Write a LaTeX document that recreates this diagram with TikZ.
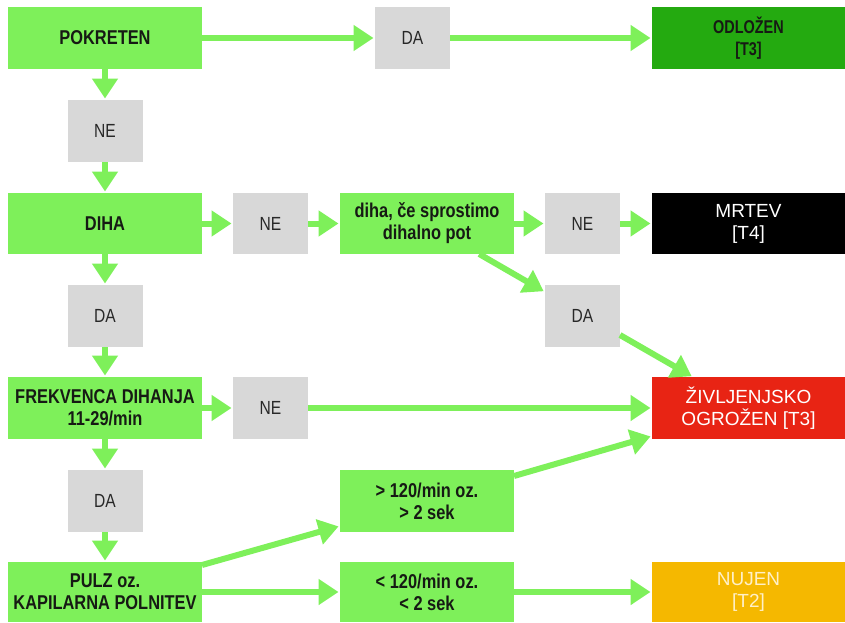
\documentclass[tikz,border=0pt]{standalone}
\usepackage{fontspec}
\setmainfont{Liberation Sans}
\newfontfamily\narrowsans{Liberation Sans}[FakeStretch=0.82]
\newfontfamily\narrowersans{Liberation Sans}[FakeStretch=0.78]
\usetikzlibrary{arrows.meta,calc}

\definecolor{lime}{RGB}{126,240,90}
\definecolor{boxgray}{RGB}{216,216,216}
\definecolor{delaygreen}{RGB}{36,170,16}
\definecolor{urgentred}{RGB}{232,36,20}
\definecolor{warnorange}{RGB}{245,184,0}
\definecolor{inktext}{RGB}{22,26,20}
\definecolor{graytext}{RGB}{40,40,40}
\definecolor{creamtext}{RGB}{255,240,200}

\tikzset{
  base/.style={inner sep=0pt, outer sep=0pt, align=center, minimum height=62pt},
  question/.style={base, fill=lime, minimum width=194pt, text=inktext,
    font=\narrowsans\bfseries\fontsize{20}{22}\selectfont},
  answer/.style={base, fill=boxgray, minimum width=75pt, text=graytext,
    font=\narrowsans\fontsize{19}{22}\selectfont},
  criterion/.style={question, minimum width=174pt},
  outcome/.style={base, minimum width=193pt, text=white,
    font=\fontsize{19}{22}\selectfont},
  flow/.style={draw=lime, line width=6pt,
    -{Triangle[length=20pt,width=25pt]}, shorten >=1.5pt}
}

\begin{document}
\begin{tikzpicture}[x=1pt, y=-1pt]
  \useasboundingbox (0,0) rectangle (845,622);

  % left column: the questions and their answers
  \node[question] (pok)  at (105,38)  {POKRETEN};
  \node[answer]   (ne1)  at (105,131) {NE};
  \node[question, minimum height=61pt] (diha) at (105,223.5) {DIHA};
  \node[answer]   (da2)  at (105,316) {DA};
  \node[question] (frek) at (105,408) {FREKVENCA DIHANJA\\11-29/min};
  \node[answer]   (da4)  at (105,501) {DA};
  \node[question, minimum height=60pt] (pulz) at (105,592) {PULZ oz.\\KAPILARNA POLNITEV};

  % middle: answers and criteria
  \node[answer] (da1) at (412.5,38) {DA};
  \node[answer, minimum height=61pt] (ne2) at (270.5,223.5) {NE};
  \node[criterion, minimum height=61pt] (cesp) at (427,223.5) {diha, če sprostimo\\dihalno pot};
  \node[answer, minimum height=61pt] (ne3) at (582.5,223.5) {NE};
  \node[answer] (da3) at (582.5,316) {DA};
  \node[answer] (ne4) at (270.5,408) {NE};
  \node[criterion] (gt) at (427,501) {> 120/min oz.\\> 2 sek};
  \node[criterion, minimum height=60pt] (lt) at (427,592) {< 120/min oz.\\< 2 sek};

  % right column: triage categories
  \node[outcome, fill=delaygreen, text=inktext,
    font=\narrowersans\bfseries\fontsize{18.5}{22}\selectfont]
    (odl) at (748.5,38) {ODLOŽEN\\{[}T3{]}};
  \node[outcome, fill=black, minimum height=61pt] (mrt) at (748.5,223.5) {MRTEV\\{[}T4{]}};
  \node[outcome, fill=urgentred] (ziv) at (748.5,408) {ŽIVLJENJSKO\\OGROŽEN [T3]};
  \node[outcome, fill=warnorange, text=creamtext, minimum height=60pt]
    (nuj) at (748.5,592) {NUJEN\\{[}T2{]}};

  % connectors
  \draw[flow] (pok) -- (da1);
  \draw[flow] (da1) -- (odl);
  \draw[flow] (pok) -- (ne1);
  \draw[flow] (ne1) -- (diha);
  \draw[flow] (diha) -- (ne2);
  \draw[flow] (ne2) -- (cesp);
  \draw[flow] (cesp) -- (ne3);
  \draw[flow] (ne3) -- (mrt);
  \draw[flow] ($(cesp.south west)!0.8!(cesp.south east)$) -- ($(da3.north west)+(0,7)$);
  \draw[flow] ($(da3.south east)+(0,-12)$) -- ($(ziv.north west)+(41,0)$);
  \draw[flow] (diha) -- (da2);
  \draw[flow] (da2) -- (frek);
  \draw[flow] (frek) -- (ne4);
  \draw[flow] (ne4) -- (ziv);
  \draw[flow] (frek) -- (da4);
  \draw[flow] (da4) -- (pulz);
  \draw[flow] ($(pulz.north east)+(0,3)$) -- ($(gt.south west)+(0,-6)$);
  \draw[flow] ($(gt.north east)+(0,6)$) -- ($(ziv.south west)+(0,-3)$);
  \draw[flow] (pulz) -- (lt);
  \draw[flow] (lt) -- (nuj);
\end{tikzpicture}
\end{document}
